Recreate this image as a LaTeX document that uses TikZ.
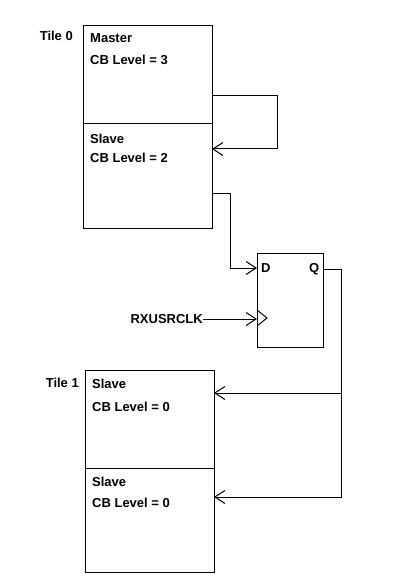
\documentclass[tikz,border=0pt]{standalone}
\usepackage{fontspec}
\setmainfont{Liberation Sans}
\usetikzlibrary{arrows.meta}

\begin{document}
\begin{tikzpicture}[x=1pt,y=-1pt,
  box/.style={draw,line width=1pt,minimum width=129pt,inner sep=0pt,outer sep=0pt,anchor=north west},
  lbl/.style={font=\fontsize{13}{15}\selectfont\bfseries,anchor=base west,inner sep=0pt},
  wire/.style={line width=1pt},
  >={Straight Barb[length=10pt,width=13pt]}]

% Page frame
\path[use as bounding box,fill=white] (0,0) rectangle (416,588);

% Tile 0
\node[lbl,anchor=base east] (tile0) at (73,41) {Tile 0};
\node[box,minimum height=98pt] (master) at (83,26) {};
\node[box,minimum height=104pt] (slave0) at (83,124) {};
\node[lbl] (mname) at (90,43) {Master};
\node[lbl] (mlevel) at (90,65) {CB Level = 3};
\node[lbl] (s0name) at (90,143) {Slave};
\node[lbl] (s0level) at (90,163) {CB Level = 2};

% Flip-flop
\node[box,minimum width=66pt,minimum height=94pt] (ff) at (257,253) {};
\node[lbl] (dpin) at (261,272) {D};
\node[lbl] (qpin) at (309,272) {Q};
\draw[wire] ([yshift=-57pt]ff.north west) -- ++(10,8) -- ++(-10,8);
\node[lbl,anchor=base east] (rxclk) at (203,323) {RXUSRCLK};

% Tile 1
\node[lbl,anchor=base east] (tile1) at (79,387) {Tile 1};
\node[box,minimum height=98pt] (slave1) at (85,370) {};
\node[box,minimum height=104pt] (slave2) at (85,468) {};
\node[lbl] (s1name) at (92,388) {Slave};
\node[lbl] (s1level) at (92,411) {CB Level = 0};
\node[lbl] (s2name) at (92,486) {Slave};
\node[lbl] (s2level) at (92,507) {CB Level = 0};

% Ports
\coordinate (fbout) at ([yshift=-70pt]master.north east);
\coordinate (fbin) at ([yshift=-25pt]slave0.north east);
\coordinate (sout) at ([yshift=-69pt]slave0.north east);
\coordinate (din) at ([yshift=-15pt]ff.north west);
\coordinate (clkin) at ([yshift=-66pt]ff.north west);
\coordinate (qout) at ([yshift=-16pt]ff.north east);
\coordinate (qbus) at ([xshift=18pt]qout);
\coordinate (s1in) at ([yshift=-23pt]slave1.north east);
\coordinate (s2in) at ([yshift=-29pt]slave2.north east);

% Connections
\draw[wire,->] (fbout) -- ++(65,0) |- (fbin);
\draw[wire,->] (sout) -- ++(18,0) |- (din);
\draw[wire,->] (rxclk.east |- clkin) -- (clkin);
\draw[wire,->] (qout) -- (qbus) |- (s2in);
\draw[wire,->] (qbus |- s1in) -- (s1in);

\end{tikzpicture}
\end{document}
